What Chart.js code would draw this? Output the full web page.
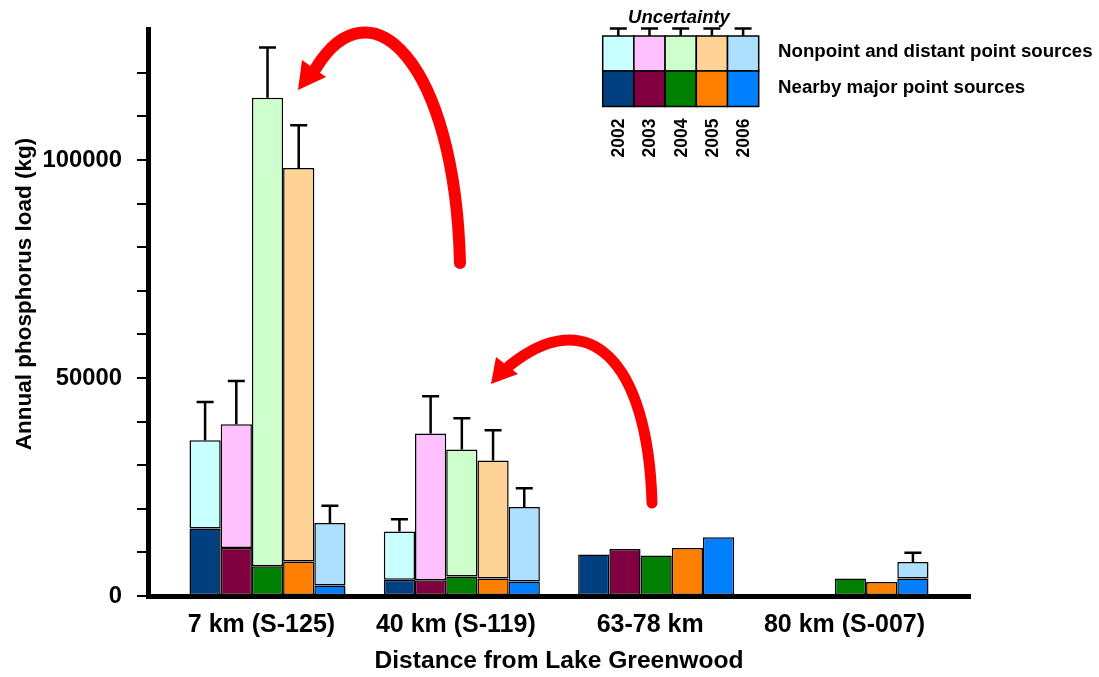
<!DOCTYPE html>
<html><head><meta charset="utf-8">
<script src="https://cdn.jsdelivr.net/npm/chart.js@4.4.1/dist/chart.umd.min.js"></script>
<style>html,body{margin:0;padding:0;background:#fff;}#wrap{width:1099px;height:677px;}</style>
</head><body><div id="wrap"><canvas id="c" width="1099" height="677"></canvas></div>
<script>
const categories = ['7 km (S-125)', '40 km (S-119)', '63-78 km', '80 km (S-007)'];
const years = ['2002', '2003', '2004', '2005', '2006'];
const yTickLabels = [0, 50000, 100000];

// Nearby major point sources (bottom segment), kg
const nearby2002 = [15500, 3700, 9500, null];
const nearby2003 = [11000, 3600, 10800, null];
const nearby2004 = [6800, 4500, 9300, 4000];
const nearby2005 = [7900, 4000, 11000, 3200];
const nearby2006 = [2400, 3300, 13500, 4000];

// Nonpoint and distant point sources (top segment), kg
const nonpoint2002 = [20200, 11100, null, null];
const nonpoint2003 = [28400, 33700, null, null];
const nonpoint2004 = [107500, 29100, null, null];
const nonpoint2005 = [90300, 27100, null, null];
const nonpoint2006 = [14350, 17100, null, 3800];

// Upper end of the uncertainty bar, kg
const upper2002 = [44500, 17600, null, null];
const upper2003 = [49300, 45800, null, null];
const upper2004 = [125800, 40800, null, null];
const upper2005 = [108000, 38000, null, null];
const upper2006 = [20700, 24700, null, 9900];

const darkColors = ['#004080', '#800040', '#008000', '#FF8000', '#0080FF'];
const lightColors = ['#C8FFFF', '#FFC0FF', '#CCFFCC', '#FFD296', '#ADE0FF'];

const nearbySeries = [nearby2002, nearby2003, nearby2004, nearby2005, nearby2006];
const nonpointSeries = [nonpoint2002, nonpoint2003, nonpoint2004, nonpoint2005, nonpoint2006];
const upperSeries = [upper2002, upper2003, upper2004, upper2005, upper2006];

const FONT = "'Liberation Sans', Arial, sans-serif";
const toPts = arr => arr.map((v, i) => ({x: i, y: v}));

const datasets = [];
years.forEach((yr, k) => {
  datasets.push({label: 'Nearby major point sources ' + yr, data: toPts(nearbySeries[k]), stack: yr,
    backgroundColor: darkColors[k], borderColor: '#000', borderWidth: 1.5, borderSkipped: false});
});
years.forEach((yr, k) => {
  datasets.push({label: 'Nonpoint and distant point sources ' + yr, data: toPts(nonpointSeries[k]), stack: yr,
    backgroundColor: lightColors[k], borderColor: '#000', borderWidth: 1.5, borderSkipped: false});
});

const errorBars = {
  id: 'errorBars',
  afterDatasetsDraw(chart) {
    const ctx = chart.ctx, y = chart.scales.y;
    ctx.save();
    ctx.strokeStyle = '#000'; ctx.lineWidth = 2.5;
    years.forEach((yr, k) => {
      const metaTop = chart.getDatasetMeta(5 + k);
      const metaBot = chart.getDatasetMeta(k);
      upperSeries[k].forEach((u, i) => {
        if (u == null) return;
        const el = metaTop.data[i] && nonpointSeries[k][i] != null ? metaTop.data[i] : metaBot.data[i];
        const x = el.x, yTop = el.y, yU = y.getPixelForValue(u);
        ctx.beginPath();
        ctx.moveTo(x, yTop); ctx.lineTo(x, yU);
        ctx.moveTo(x - 8.5, yU); ctx.lineTo(x + 8.5, yU);
        ctx.stroke();
      });
    });
    ctx.restore();
  }
};

function drawArrow(ctx, p0, p1, p2, p3, head, w) {
  ctx.save();
  ctx.strokeStyle = '#FF0000'; ctx.fillStyle = '#FF0000';
  ctx.lineWidth = w; ctx.lineCap = 'round';
  ctx.beginPath(); ctx.moveTo(p0[0], p0[1]);
  ctx.bezierCurveTo(p1[0], p1[1], p2[0], p2[1], p3[0], p3[1]);
  ctx.stroke();
  ctx.beginPath(); ctx.moveTo(head[0][0], head[0][1]);
  ctx.lineTo(head[1][0], head[1][1]); ctx.lineTo(head[2][0], head[2][1]);
  ctx.closePath(); ctx.fill();
  ctx.restore();
}

const decorations = {
  id: 'decorations',
  afterDraw(chart) {
    const ctx = chart.ctx;
    // arrows
    drawArrow(ctx, [460, 263], [455, 60], [370, -20], [316, 68],
      [[298, 90], [302, 60], [326, 77]], 12);
    drawArrow(ctx, [652, 503], [648, 359], [588, 302], [509, 366],
      [[491, 384], [496, 357], [518, 374]], 11);
    // legend grid
    const x0 = 602.7, cw = 31.2, top = 36, mid = 71, bot = 106.5;
    ctx.save();
    ctx.lineWidth = 1.5; ctx.strokeStyle = '#000';
    years.forEach((yr, k) => {
      const xl = x0 + k * cw;
      ctx.fillStyle = lightColors[k]; ctx.fillRect(xl, top, cw, mid - top);
      ctx.strokeRect(xl, top, cw, mid - top);
      ctx.fillStyle = darkColors[k]; ctx.fillRect(xl, mid, cw, bot - mid);
      ctx.strokeRect(xl, mid, cw, bot - mid);
      const cx = xl + cw / 2;
      ctx.save(); ctx.lineWidth = 2.5;
      ctx.beginPath(); ctx.moveTo(cx, top); ctx.lineTo(cx, 28.5);
      ctx.moveTo(cx - 8.5, 28.5); ctx.lineTo(cx + 8.5, 28.5); ctx.stroke();
      ctx.restore();
      ctx.save();
      ctx.translate(cx + 1, 157.5); ctx.rotate(-Math.PI / 2);
      ctx.fillStyle = '#000'; ctx.font = 'bold 17.5px ' + FONT;
      ctx.textAlign = 'left'; ctx.textBaseline = 'middle';
      ctx.fillText(yr, 0, 0);
      ctx.restore();
    });
    ctx.fillStyle = '#000';
    ctx.font = 'italic bold 18.5px ' + FONT;
    ctx.textAlign = 'center'; ctx.textBaseline = 'alphabetic';
    ctx.fillText('Uncertainty', 679, 23);
    ctx.font = 'bold 18.7px ' + FONT;
    ctx.textAlign = 'left'; ctx.textBaseline = 'middle';
    ctx.fillText('Nonpoint and distant point sources', 778, 52);
    ctx.fillText('Nearby major point sources', 778, 88);
    ctx.restore();
  }
};

new Chart(document.getElementById('c'), {
  type: 'bar',
  data: {datasets},
  options: {
    responsive: false, animation: false, devicePixelRatio: 1,
    categoryPercentage: 0.803, barPercentage: 1.0,
    layout: {padding: {top: 28, right: 129, left: 0, bottom: 0}},
    plugins: {legend: {display: false}, tooltip: {enabled: false}},
    scales: {
      x: {
        type: 'linear', min: -0.615, max: 3.615, offset: false, z: 1,
        grid: {display: false, drawTicks: false},
        border: {display: true, width: 5, color: '#000'},
        afterBuildTicks: s => { s.ticks = categories.map((c, i) => ({value: i})); },
        ticks: {callback: v => categories[v] ?? '', color: '#000', padding: 14, labelOffset: -6,
          maxRotation: 0, autoSkip: false, font: {family: FONT, size: 25, weight: 'bold'}},
        title: {display: true, text: 'Distance from Lake Greenwood', color: '#000',
          font: {family: FONT, size: 24.6, weight: 'bold'}, padding: {top: 0, bottom: 1}},
        afterFit: s => { s.height = 81; }
      },
      y: {
        min: 0, max: 130000, stacked: true, z: 1,
        grid: {drawOnChartArea: false, drawTicks: true, tickLength: 11, lineWidth: 2,
          color: c => (c.tick && c.tick.value >= 130000) ? 'rgba(0,0,0,0)' : '#000'},
        border: {display: true, width: 5, color: '#000'},
        ticks: {stepSize: 10000, autoSkip: false, color: '#000', padding: 15,
          callback: v => yTickLabels.includes(v) ? String(v) : '',
          font: {family: FONT, size: 23.8, weight: 'bold'}},
        title: {display: true, text: '      Annual phosphorus load (kg)', color: '#000',
          font: {family: FONT, size: 22.5, weight: 'bold'}, padding: {top: 11, bottom: 0}},
        afterFit: s => { s.width = 148; }
      }
    }
  },
  plugins: [errorBars, decorations]
});
</script></body></html>
